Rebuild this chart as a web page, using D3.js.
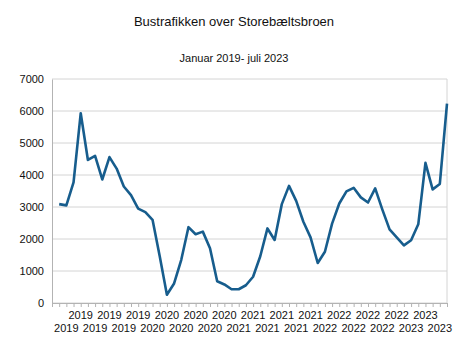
<!DOCTYPE html>
<html>
<head>
<meta charset="utf-8">
<script src="https://cdn.jsdelivr.net/npm/d3@7"></script>
<style>
  body { margin: 0; background: #fff; }
  svg { font-family: "Liberation Sans", Arial, sans-serif; }
</style>
</head>
<body>
<svg id="chart" width="468" height="350"></svg>
<script>
// monthly bus traffic, Jan 2019 - Jul 2023
var years = [
    2019, 2019, 2019, 2019, 2019, 2019, 2019, 2019, 2019, 2019, 2019, 2019,
    2020, 2020, 2020, 2020, 2020, 2020, 2020, 2020, 2020, 2020, 2020, 2020,
    2021, 2021, 2021, 2021, 2021, 2021, 2021, 2021, 2021, 2021, 2021, 2021,
    2022, 2022, 2022, 2022, 2022, 2022, 2022, 2022, 2022, 2022, 2022, 2022,
    2023, 2023, 2023, 2023, 2023, 2023, 2023
];
var busses = [
    3090, 3050, 3770, 5930, 4470, 4600, 3860, 4560, 4200, 3640, 3370, 2950,
    2840, 2600, 1460, 260, 610, 1350, 2370, 2150, 2230, 1710, 680, 580,
    430, 430, 555, 820, 1460, 2330, 1970, 3090, 3660, 3190, 2540, 2050,
    1250, 1600, 2480, 3110, 3490, 3600, 3300, 3140, 3580, 2920, 2300, 2050,
    1800, 1960, 2460, 4380, 3550, 3720, 6230
];
var yTicks = [0, 1000, 2000, 3000, 4000, 5000, 6000, 7000];

var margin = { top: 79, right: 21, bottom: 47, left: 52 },
    width = 468 - margin.left - margin.right,
    height = 350 - margin.top - margin.bottom;

var svg = d3.select("#chart");

svg.append("text")
    .attr("x", 234)
    .attr("y", 26)
    .attr("text-anchor", "middle")
    .style("font-size", "13px")
    .attr("fill", "#111")
    .text("Bustrafikken over Storebæltsbroen");

svg.append("text")
    .attr("x", 234)
    .attr("y", 62)
    .attr("text-anchor", "middle")
    .style("font-size", "11px")
    .attr("fill", "#111")
    .text("Januar 2019- juli 2023");

var g = svg.append("g")
    .attr("transform", "translate(" + margin.left + "," + margin.top + ")");

// one empty slot before the first month, points sit on the ticks
var x = d3.scaleLinear().domain([-1, busses.length - 1]).range([0, width]);
var y = d3.scaleLinear().domain([0, 7000]).range([height, 0]);

// gridlines
g.selectAll(".grid")
    .data(yTicks)
    .enter().append("line")
    .attr("class", "grid")
    .attr("x1", 0)
    .attr("x2", width)
    .attr("y1", d => y(d))
    .attr("y2", d => y(d))
    .attr("stroke", "#d4d4d4")
    .attr("stroke-width", 1);

// right border
g.append("line")
    .attr("x1", width).attr("x2", width)
    .attr("y1", 0).attr("y2", height)
    .attr("stroke", "#d4d4d4");

// y axis
var yAxis = g.append("g")
    .call(d3.axisLeft(y).tickValues(yTicks).tickSize(0).tickPadding(8).tickFormat(d3.format("d")));
yAxis.select(".domain").attr("stroke", "#b3b3b3");
yAxis.selectAll("text").style("font-size", "11px").attr("fill", "#111");

// x axis with staggered year labels on every second month
var tickIdx = d3.range(-1, busses.length);
var xAxis = g.append("g")
    .attr("transform", "translate(0," + height + ")")
    .call(d3.axisBottom(x).tickValues(tickIdx).tickSize(4).tickFormat(""));
xAxis.select(".domain").attr("stroke", "#b3b3b3");
xAxis.selectAll(".tick line").attr("stroke", "#b3b3b3");

var labelIdx = d3.range(1, busses.length, 2);
g.selectAll(".xlabel")
    .data(labelIdx)
    .enter().append("text")
    .attr("class", "xlabel")
    .attr("x", d => x(d))
    .attr("y", (d, i) => height + (i % 2 === 0 ? 29 : 16))
    .attr("text-anchor", "middle")
    .style("font-size", "11px")
    .attr("fill", "#111")
    .text(d => years[d]);

// line
var line = d3.line()
    .x((d, i) => x(i))
    .y(d => y(d));

g.append("path")
    .datum(busses)
    .attr("fill", "none")
    .attr("stroke", "#175d8d")
    .attr("stroke-width", 2.6)
    .attr("stroke-linejoin", "round")
    .attr("d", line);
</script>
</body>
</html>
